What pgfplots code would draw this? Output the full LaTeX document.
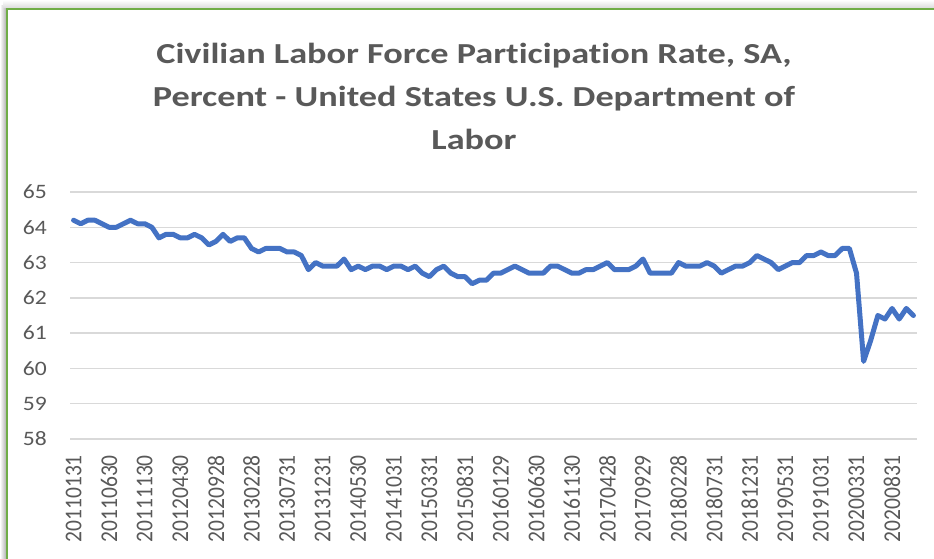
\documentclass[border=0pt]{standalone}
\usepackage{pgfplots}
\pgfplotsset{compat=1.18}
\usepackage{pgfplotstable}
\usepackage{fontspec}
\setmainfont[RawFeature=-liga]{Carlito}
\definecolor{txtgrey}{HTML}{595959}
\definecolor{gridgrey}{HTML}{D9D9D9}
\definecolor{lineblue}{HTML}{4472C4}
\definecolor{bordergreen}{HTML}{70AD47}
\pgfplotstableread{
rate
64.2
64.1
64.2
64.2
64.1
64.0
64.0
64.1
64.2
64.1
64.1
64.0
63.7
63.8
63.8
63.7
63.7
63.8
63.7
63.5
63.6
63.8
63.6
63.7
63.7
63.4
63.3
63.4
63.4
63.4
63.3
63.3
63.2
62.8
63.0
62.9
62.9
62.9
63.1
62.8
62.9
62.8
62.9
62.9
62.8
62.9
62.9
62.8
62.9
62.7
62.6
62.8
62.9
62.7
62.6
62.6
62.4
62.5
62.5
62.7
62.7
62.8
62.9
62.8
62.7
62.7
62.7
62.9
62.9
62.8
62.7
62.7
62.8
62.8
62.9
63.0
62.8
62.8
62.8
62.9
63.1
62.7
62.7
62.7
62.7
63.0
62.9
62.9
62.9
63.0
62.9
62.7
62.8
62.9
62.9
63.0
63.2
63.1
63.0
62.8
62.9
63.0
63.0
63.2
63.2
63.3
63.2
63.2
63.4
63.4
62.7
60.2
60.8
61.5
61.4
61.7
61.4
61.7
61.5
}\lfpr
\begin{document}
\begin{tikzpicture}
\path[use as bounding box] (0,0) rectangle (934bp,559bp);
\fill[white] (0,0) rectangle (934bp,559bp);
% shadow
\shade[left color=white, right color=black!30] (0,0) rectangle (6bp,553bp);
\shade[bottom color=black!14, top color=white] (3bp,551bp) rectangle (934bp,559bp);
% border
\draw[bordergreen, line width=2.2bp] (7bp,-2bp) -- (7bp,550bp) -- (940bp,550bp);
% title
\begin{scope}[every node/.style={font=\fontsize{29bp}{34bp}\selectfont\bfseries, text=txtgrey, inner sep=0pt, anchor=base, xscale=1.25}]
\node at (474bp,495.7bp) {Civilian Labor Force Participation Rate, SA,};
\node at (474bp,452.3bp) {Percent - United States U.S. Department of};
\node at (474bp,409bp) {Labor};
\end{scope}
\begin{axis}[
  at={(70bp,120bp)}, anchor=south west,
  scale only axis, width=847bp, height=247bp,
  xmin=-0.5, xmax=118.5, ymin=58, ymax=65,
  axis line style={draw=none},
  major tick length=0pt,
  ytick={58,59,...,65},
  ymajorgrids, grid style={gridgrey, line width=1.3bp},
  xtick={0,5,...,115},
  xticklabels={20110131,20110630,20111130,20120430,20120928,20130228,20130731,20131231,20140530,20141031,20150331,20150831,20160129,20160630,20161130,20170428,20170929,20180228,20180731,20181231,20190531,20191031,20200331,20200831},
  yticklabel style={font=\fontsize{20.5bp}{24bp}\selectfont, text=txtgrey, inner sep=0pt, anchor=east, xshift=-23bp, xscale=1.15},
  xticklabel style={font=\fontsize{21.5bp}{24bp}\selectfont, text=txtgrey, inner sep=0pt, yshift=-16bp, rotate=90, anchor=east, yscale=1.12},
  /pgf/number format/assume math mode=true,
  clip=false,
]
\addplot[lineblue, line width=5bp, line join=round, line cap=round] table[x expr=\coordindex, y=rate] {\lfpr};
\end{axis}
\end{tikzpicture}
\end{document}
